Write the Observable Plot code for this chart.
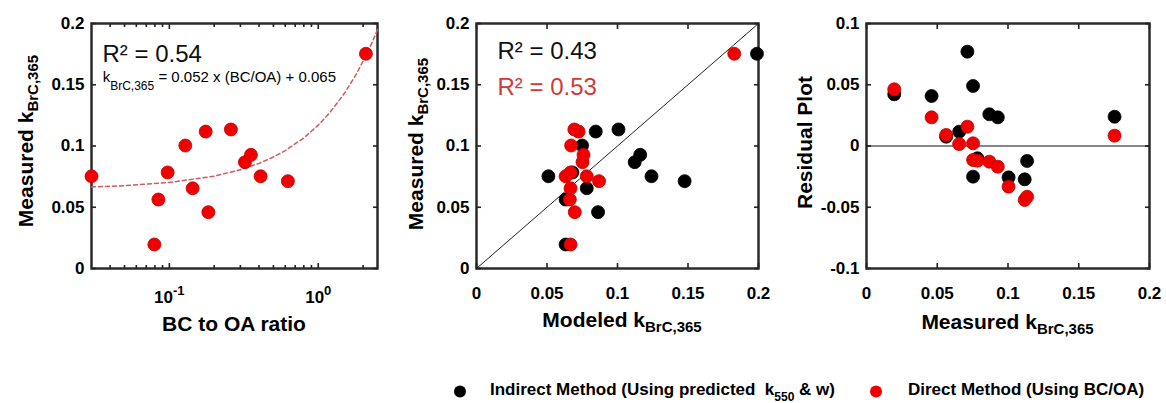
<!DOCTYPE html>
<html><head><meta charset="utf-8">
<script src="https://cdn.jsdelivr.net/npm/d3@7"></script>
<script src="https://cdn.jsdelivr.net/npm/@observablehq/plot@0.6"></script>
<style>
body{margin:0;background:#fff;}
#wrap{position:relative;width:1166px;height:403px;overflow:hidden;background:#fff;}
#wrap > svg{position:absolute;top:0;}
</style></head><body><div id="wrap"></div>
<script>
// ---- data ----
const bcoaRatio = [0.03, 2.09, 0.0793, 0.0844, 0.0974, 0.128, 0.1433, 0.1754, 0.1828, 0.259, 0.3218, 0.353, 0.410, 0.625];
const measuredK = [0.0753, 0.1753, 0.0196, 0.0563, 0.0784, 0.1004, 0.0655, 0.1118, 0.046, 0.1135, 0.0868, 0.0928, 0.0753, 0.0713];
const modeledIndirect = [0.0510, 0.1989, 0.0632, 0.0632, 0.0680, 0.0749, 0.0782, 0.0846, 0.0862, 0.1007, 0.1122, 0.1161, 0.1241, 0.1476];
const modeledDirect   = [0.0632, 0.1828, 0.0667, 0.0662, 0.0667, 0.0671, 0.0667, 0.0724, 0.0697, 0.0694, 0.0752, 0.0759, 0.0782, 0.0869];
const residIndirect = [-0.025, 0.0239, 0.0422, 0.0076, -0.010, -0.0256, 0.0117, -0.0272, 0.0408, -0.0122, 0.0259, 0.0234, 0.049, 0.077];
const residDirect   = [-0.0114, 0.0084, 0.0463, 0.009, -0.012, -0.0332, 0.0016, -0.044, 0.0234, -0.0414, -0.0128, -0.0169, 0.0022, 0.0158];
const fitBCOA = [0.03, 0.05, 0.1, 0.2, 0.3, 0.4, 0.5, 0.6, 0.8, 1.0, 1.2, 1.5, 1.8, 2.1, 2.3, 2.5];
const fitK    = [0.0666, 0.0676, 0.0702, 0.0754, 0.0806, 0.0858, 0.091, 0.0962, 0.1066, 0.117, 0.1274, 0.143, 0.1586, 0.1742, 0.1846, 0.195];
const oneToOne = [0, 0.2];
const kTicks = [0, 0.05, 0.1, 0.15, 0.2];
const residTicks = [-0.1, -0.05, 0, 0.05, 0.1];
const logMajor = [0.1, 1];
const logMinor = [0.04, 0.05, 0.06, 0.07, 0.08, 0.09, 0.2, 0.3, 0.4, 0.5, 0.6, 0.7, 0.8, 0.9, 2];
const r2Text = ["R² = 0.54", "R² = 0.43", "R² = 0.53"];

const font = '"Liberation Sans", Arial, Helvetica, sans-serif';
const fmt = d => String(+(+d).toFixed(2));
const wrap = document.getElementById("wrap");
const red = "#f20000", redEdge = "#c00000";

const style = () => ({fontFamily: font, fontSize: "17px", fontWeight: "bold", color: "#000", background: "transparent", overflow: "visible"});

function inward(xt, yt, xMinor) {
  const o = {fill: "none", label: null, strokeWidth: 1.6, stroke: "#222"};
  const L = 5, l = 3;
  const m = [
    Plot.axisX(xt, {anchor: "bottom", tickSize: L, dy: -L, ...o}),
    Plot.axisX(xt, {anchor: "top", tickSize: L, dy: L, ...o}),
    Plot.axisY(yt, {anchor: "left", tickSize: L, dx: L, ...o}),
    Plot.axisY(yt, {anchor: "right", tickSize: L, dx: -L, ...o})
  ];
  if (xMinor) m.push(
    Plot.axisX(xMinor, {anchor: "bottom", tickSize: l, dy: -l, ...o}),
    Plot.axisX(xMinor, {anchor: "top", tickSize: l, dy: l, ...o}));
  return m;
}
const frame = () => Plot.frame({stroke: "#2b2b2b", strokeWidth: 2.5});
const dotOpts = (x, y, fill, stroke) => ({x, y, r: 6.5, fill, stroke, strokeWidth: 0.8});
const idx = d3.range(measuredK.length);

// Panel 1
const p1 = Plot.plot({
  width: 390, height: 345, marginLeft: 91, marginRight: 13, marginTop: 23, marginBottom: 77,
  style: style(),
  x: {type: "log", domain: [0.03, 2.5]},
  y: {domain: [0, 0.2]},
  marks: [
    frame(),
    ...inward(logMajor, kTicks, logMinor),
    Plot.axisX(logMajor, {anchor: "bottom", tickSize: 0, tickPadding: 22, label: null,
      tickFormat: d => "10^" + Math.round(Math.log10(d))}),
    Plot.axisY(kTicks, {anchor: "left", tickSize: 0, tickPadding: 7, tickFormat: fmt, label: null}),
    Plot.line(d3.range(fitBCOA.length), {x: i => fitBCOA[i], y: i => fitK[i], stroke: "#cf5b5b", strokeWidth: 1.5, strokeDasharray: "4,3"}),
    Plot.text([r2Text[0]], {text: d => d, frameAnchor: "top-left", dx: 11, dy: 38, lineAnchor: "bottom", textAnchor: "start", fontSize: 24, fontWeight: "normal", fill: "#111"}),
    Plot.dot(idx, dotOpts(i => bcoaRatio[i], i => measuredK[i], red, redEdge))
  ]
});

// Panel 2
const p2 = Plot.plot({
  width: 390, height: 345, marginLeft: 86, marginRight: 22, marginTop: 23, marginBottom: 77,
  style: style(),
  x: {domain: [0, 0.2]},
  y: {domain: [0, 0.2]},
  marks: [
    frame(),
    ...inward(kTicks, kTicks),
    Plot.axisX(kTicks, {anchor: "bottom", tickSize: 0, tickPadding: 18, tickFormat: fmt, label: null}),
    Plot.axisY(kTicks, {anchor: "left", tickSize: 0, tickPadding: 7, tickFormat: fmt, label: null}),
    Plot.line(oneToOne, {x: d => d, y: d => d, stroke: "#222", strokeWidth: 1}),
    Plot.text([r2Text[1]], {text: d => d, frameAnchor: "top-left", dx: 21, dy: 35, lineAnchor: "bottom", textAnchor: "start", fontSize: 24, fontWeight: "normal", fill: "#111"}),
    Plot.text([r2Text[2]], {text: d => d, frameAnchor: "top-left", dx: 21, dy: 71, lineAnchor: "bottom", textAnchor: "start", fontSize: 24, fontWeight: "normal", fill: "#d03a3a"}),
    Plot.dot(idx, dotOpts(i => modeledIndirect[i], i => measuredK[i], "#000", "#000")),
    Plot.dot(idx, dotOpts(i => modeledDirect[i], i => measuredK[i], red, redEdge))
  ]
});

// Panel 3
const p3 = Plot.plot({
  width: 386, height: 345, marginLeft: 86, marginRight: 17, marginTop: 23, marginBottom: 77,
  style: style(),
  x: {domain: [0, 0.2]},
  y: {domain: [-0.1, 0.1]},
  marks: [
    frame(),
    ...inward(kTicks, residTicks),
    Plot.axisX(kTicks, {anchor: "bottom", tickSize: 0, tickPadding: 18, tickFormat: fmt, label: null}),
    Plot.axisY(residTicks, {anchor: "left", tickSize: 0, tickPadding: 7, tickFormat: fmt, label: null}),
    Plot.ruleY([0], {stroke: "#111", strokeWidth: 1.2}),
    Plot.dot(idx, dotOpts(i => measuredK[i], i => residIndirect[i], "#000", "#000")),
    Plot.dot(idx, dotOpts(i => measuredK[i], i => residDirect[i], red, redEdge))
  ]
});

[[p1, 0], [p2, 390], [p3, 780]].forEach(([svg, left]) => {
  svg.style.left = left + "px";
  wrap.appendChild(svg);
});

// superscript exponents on log tick labels
d3.select(p1).selectAll('g[aria-label="x-axis tick label"] text').each(function() {
  const t = this.textContent;
  if (!t.includes("^")) return;
  const [base, exp] = t.split("^");
  const s = d3.select(this);
  s.text(null);
  s.append("tspan").text(base);
  s.append("tspan").attr("dy", "-0.6em").attr("font-size", "13px").text(exp);
});

// overlay with titles, equation and legend
const ov = d3.select(wrap).append("svg")
  .attr("width", 1166).attr("height", 403)
  .style("left", "0px").style("pointer-events", "none")
  .attr("font-family", font);

function subText(x, y, rot, main, sub, rest, size, subSize, weight, anchor, subDy) {
  const t = ov.append("text")
    .attr("transform", `translate(${x},${y}) rotate(${rot})`)
    .attr("text-anchor", anchor).attr("font-size", size).attr("font-weight", weight)
    .attr("fill", "#000").style("white-space", "pre");
  t.append("tspan").text(main);
  if (sub) t.append("tspan").attr("dy", subDy).attr("font-size", subSize).text(sub);
  if (rest) t.append("tspan").attr("dy", -subDy).text(rest);
  return t;
}

// y titles
subText(33, 141, -90, "Measured k", "BrC,365", null, 21, 15, "bold", "middle", 5);
subText(423, 144, -90, "Measured k", "BrC,365", null, 21, 15, "bold", "middle", 5);
subText(812, 142.5, -90, "Residual Plot", null, null, 21, 15, "bold", "middle", 5);
// x titles
subText(234, 331, 0, "BC to OA ratio", null, null, 21, 15, "bold", "middle", 5);
subText(622, 327, 0, "Modeled k", "BrC,365", null, 21, 15, "bold", "middle", 5);
subText(1007.5, 329, 0, "Measured k", "BrC,365", null, 21, 15, "bold", "middle", 5);
// fit equation
subText(102.7, 81.7, 0, "k", "BrC,365", " = 0.052 x (BC/OA) + 0.065", 15, 12, "normal", "start", 8);

// legend
const legendItems = [
  {color: "#000", cx: 460, tx: 490, main: "Indirect Method (Using predicted  k", sub: "550", rest: " & w)"},
  {color: red, cx: 876, tx: 908, main: "Direct Method (Using BC/OA)", sub: null, rest: null}
];
legendItems.forEach(it => {
  ov.append("circle").attr("cx", it.cx).attr("cy", 391.5).attr("r", 6).attr("fill", it.color);
  subText(it.tx, 395, 0, it.main, it.sub, it.rest, 17, 12, "bold", "start", 6);
});
</script></body></html>
